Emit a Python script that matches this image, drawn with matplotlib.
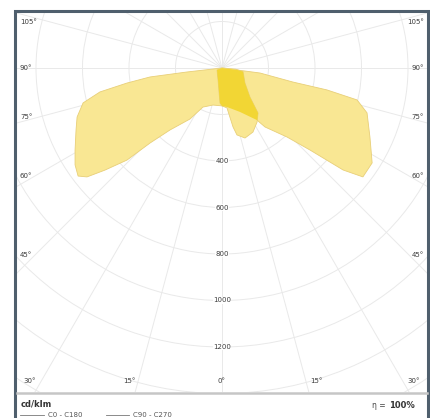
import numpy as np
import matplotlib.pyplot as plt
from matplotlib.patches import Rectangle, Polygon, Circle

# luminous intensity (cd/klm) against gamma angle
# C90 - C270 plane (the two wide wings)
c90_gamma = [0, 7.3, 22.2, 33.9, 36.1, 43.3, 47.0, 49.9, 52.3, 57.7, 65.0, 72.8, 76.7, 78.2, 78.8, 82.5, 90]
c90_cd = [163, 169, 204, 270, 314, 408, 517, 681, 766, 764, 702, 653, 597, 461, 311, 165, 0]
c270_gamma = [0, 13.7, 26.0, 32.1, 40.0, 43.8, 45.9, 48.9, 51.1, 53.1, 56.6, 60.8, 67.0, 71.3, 75.9, 78.9, 81.0, 82.9, 83.5, 90]
c270_cd = [163, 164, 187, 259, 348, 447, 569, 668, 746, 774, 757, 724, 682, 658, 616, 535, 414, 312, 152, 0]
# C0 - C180 plane (small lobe under the luminaire)
c0_gamma = [0, 7.1, 10.6, 12.6, 18.2, 25.8, 33.0, 38.7, 44.0, 56.9, 80, 85, 90]
c0_cd = [163, 173, 258, 295, 317, 306, 277, 248, 173, 118, 92, 60, 0]
c180_gamma = [0, 3.3, 7.1, 18.4, 32.7, 68, 90]
c180_cd = [163, 151, 104, 54, 36, 23, 0]

ring_values = [400, 600, 800, 1000, 1200]

W, H = 431, 418
CX, CY = 222, 68        # centre of the diagram in pixels
S = 0.2325              # pixels per cd


def curve(g_right, i_right, g_left, i_left):
    gr = np.radians(g_right)
    gl = np.radians(g_left[::-1])
    ir = np.array(i_right, float)
    il = np.array(i_left[::-1], float)
    x = np.concatenate([ir * np.sin(gr), -il * np.sin(gl)])
    y = np.concatenate([-ir * np.cos(gr), -il * np.cos(gl)])
    return np.column_stack([x, y])


def px(x, y):
    return (x - CX) / S, (CY - y) / S


fig = plt.figure(figsize=(W / 100, H / 100), dpi=100)
left, right, top, bottom = 16, 428, 11, 392
ax = fig.add_axes([left / W, 1 - bottom / H, (right - left) / W, (bottom - top) / H])
ax.set_xlim(px(left, 0)[0], px(right, 0)[0])
ax.set_ylim(px(0, bottom)[1], px(0, top)[1])
ax.axis('off')

grid = '#e9e9e9'
for r in range(200, 2000, 200):
    ax.add_patch(Circle((0, 0), r, fill=False, ec=grid, lw=0.7, zorder=1))
for a in range(0, 360, 15):
    t = np.radians(a)
    ax.plot([0, 2500 * np.sin(t)], [0, -2500 * np.cos(t)], color=grid, lw=0.7, zorder=1)

light = '#f9e793'
dark = '#f2d634'
edge = '#e8cf78'

wing = Polygon(curve(c90_gamma, c90_cd, c270_gamma, c270_cd), closed=True,
               fc=light, ec=edge, lw=0.6, zorder=2)
ax.add_patch(wing)
lobe = Polygon(curve(c0_gamma, c0_cd, c180_gamma, c180_cd), closed=True,
               fc=light, ec=edge, lw=0.6, zorder=2)
ax.add_patch(lobe)
overlap = Polygon(curve(c0_gamma, c0_cd, c180_gamma, c180_cd), closed=True,
                  fc=dark, ec='none', zorder=3)
ax.add_patch(overlap)
overlap.set_clip_path(wing)

lab = dict(fontsize=5, color='#3c3c3c', va='center', zorder=5)
for v in ring_values:
    ax.text(0, -v, str(v), ha='center',
            bbox=dict(fc='white', ec='none', pad=0.3), **lab)

side_labels = ['105°', '90°', '75°', '60°', '45°']
side_y = [22, 68, 117, 176, 255]
for t, yy in zip(side_labels, side_y):
    ax.text(*px(20, yy), t, ha='left', **lab)
    ax.text(*px(424, yy), t, ha='right', **lab)

bottom_labels = ['30°', '15°', '0°', '15°', '30°']
bottom_x = [30, 129, 222, 316, 414]
for t, xx in zip(bottom_labels, bottom_x):
    ax.text(*px(xx, 381), t, ha='center', **lab)

# frame and footer
fig.add_artist(plt.Line2D([17 / W, 427 / W], [1 - 393 / H] * 2, color='#c6c6c6', lw=1.8))
fig.add_artist(Rectangle((15 / W, -0.05), 413.5 / W, 1.05 - 10.5 / H, fill=False,
                         ec='#4f5f6d', lw=2.2, transform=fig.transFigure))

fig.text(21 / W, 1 - 404 / H, 'cd/klm', fontsize=6, fontweight='bold', color='#333', va='center')
fig.add_artist(plt.Line2D([20 / W, 44 / W], [1 - 415 / H] * 2, color='#777', lw=0.6))
fig.text(48 / W, 1 - 415 / H, 'C0 - C180', fontsize=5, color='#555', va='center')
fig.add_artist(plt.Line2D([106 / W, 129 / W], [1 - 415 / H] * 2, color='#777', lw=0.6))
fig.text(133 / W, 1 - 415 / H, 'C90 - C270', fontsize=5, color='#555', va='center')
fig.text(388 / W, 1 - 405 / H, 'η = ', fontsize=5.5, color='#444', va='center', ha='right')
fig.text(389 / W, 1 - 405 / H, '100%', fontsize=6, fontweight='bold', color='#333', va='center')

fig.savefig('out.png', dpi=100)
